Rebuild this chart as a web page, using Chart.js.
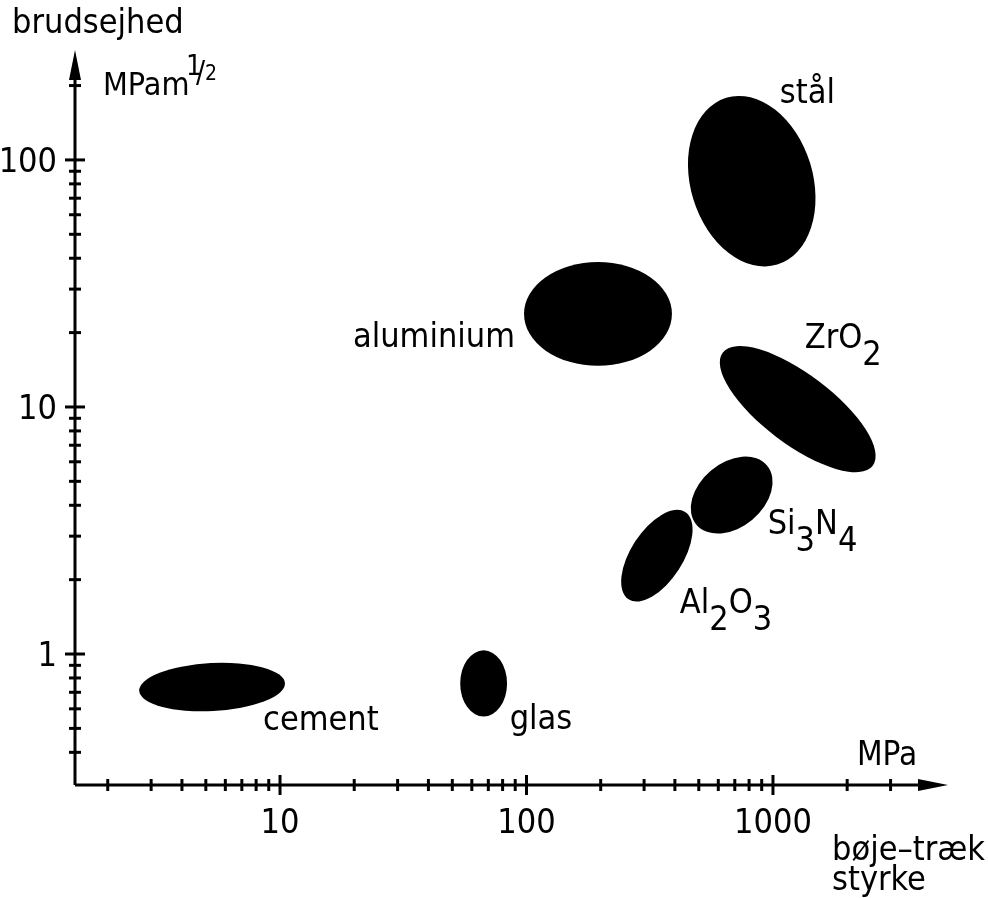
<!DOCTYPE html>
<html>
<head>
<meta charset="utf-8">
<script src="https://cdn.jsdelivr.net/npm/chart.js@4"></script>
<style>
html, body { margin: 0; padding: 0; background: #fff; }
</style>
</head>
<body>
<canvas id="chart" width="988" height="898"></canvas>
<script>
// materials: centre of each property field, and its half-spread in decades
const materials = ['stål', 'aluminium', 'ZrO2', 'Si3N4', 'Al2O3', 'glas', 'cement']
const strength = [820, 195, 1260, 680, 338, 67, 5.3]            // MPa
const toughness = [82, 23.8, 9.8, 4.4, 2.5, 0.76, 0.735]        // MPa m^1/2
const spread_major = [0.248, 0.30, 0.381, 0.187, 0.211, 0.095, 0.296]
const spread_minor = [0.353, 0.21, 0.142, 0.130, 0.105, 0.134, 0.097]
const tilt = [-17, 0, 37, -40, -57, 0, -3]                      // degrees

const x_ticks = [2, 3, 4, 5, 6, 7, 8, 9, 10, 20, 30, 40, 50, 60, 70, 80, 90,
    100, 200, 300, 400, 500, 600, 700, 800, 900, 1000, 2000, 3000]
const y_ticks = [0.4, 0.5, 0.6, 0.7, 0.8, 0.9, 1, 2, 3, 4, 5, 6, 7, 8, 9,
    10, 20, 30, 40, 50, 60, 70, 80, 90, 100, 200]
const x_labels = ['10', '100', '1000']
const y_labels = ['1', '10', '100']

// where each material name sits, relative to its field (px), baseline
const LABEL_OFFSET = [[28, -78], [-83, 33], [7, -61], [36, 39], [23, 57], [26, 46], [51, 43]]
const FAMILY = '"DejaVu Sans Condensed", "DejaVu Sans", sans-serif'
const FONT = '34px ' + FAMILY

function draw_formula(ctx, text, x, y, align) {
    // digits in formulas are set low, as subscripts
    const parts = text.split(/(\d)/).filter(s => s)
    let total = parts.reduce((w, p) => w + ctx.measureText(p).width, 0)
    let cx = align === 'right' ? x - total : x
    ctx.textAlign = 'left'
    parts.forEach(p => {
        let sub = /^\d$/.test(p) && text !== p
        ctx.fillText(p, cx, sub ? y + 17 : y)
        cx += ctx.measureText(p).width
    })
}

const sketch_plugin = {
    id: 'sketch',
    afterDatasetsDraw(chart) {
        const ctx = chart.ctx
        const xs = chart.scales.x
        const ys = chart.scales.y
        const area = chart.chartArea
        ctx.save()
        ctx.fillStyle = '#000'
        ctx.strokeStyle = '#000'

        // property fields
        materials.forEach((name, i) => {
            let cx = xs.getPixelForValue(strength[i])
            let cy = ys.getPixelForValue(toughness[i])
            let rx = xs.getPixelForValue(strength[i] * Math.pow(10, spread_major[i])) - cx
            let ry = cy - ys.getPixelForValue(toughness[i] * Math.pow(10, spread_minor[i]))
            ctx.beginPath()
            ctx.ellipse(cx, cy, rx, ry, tilt[i] * Math.PI / 180, 0, 2 * Math.PI)
            ctx.fill()
            ctx.font = FONT
            ctx.textBaseline = 'alphabetic'
            draw_formula(ctx, name, cx + LABEL_OFFSET[i][0], cy + LABEL_OFFSET[i][1],
                name === 'aluminium' ? 'right' : 'left')
        })

        // axes
        let x0 = area.left
        let y0 = area.bottom
        ctx.lineWidth = 3
        ctx.beginPath()
        ctx.moveTo(x0, y0)
        ctx.lineTo(area.right - 20, y0)
        ctx.moveTo(x0, y0)
        ctx.lineTo(x0, area.top + 20)
        ctx.stroke()

        // arrow heads
        ctx.beginPath()
        ctx.moveTo(area.right, y0)
        ctx.lineTo(area.right - 30, y0 - 6)
        ctx.lineTo(area.right - 30, y0 + 6)
        ctx.closePath()
        ctx.fill()
        ctx.beginPath()
        ctx.moveTo(x0, area.top)
        ctx.lineTo(x0 - 6, area.top + 30)
        ctx.lineTo(x0 + 6, area.top + 30)
        ctx.closePath()
        ctx.fill()

        ctx.lineWidth = 3
        x_ticks.forEach(v => {
            let px = xs.getPixelForValue(v)
            let major = x_labels.includes(String(v))
            let h = major ? 10 : 6
            ctx.beginPath()
            ctx.moveTo(px, y0 - h)
            ctx.lineTo(px, y0 + h)
            ctx.stroke()
        })
        y_ticks.forEach(v => {
            let py = ys.getPixelForValue(v)
            let major = y_labels.includes(String(v))
            ctx.beginPath()
            ctx.moveTo(x0 - (major ? 10 : 6), py)
            ctx.lineTo(x0 + (major ? 10 : 6), py)
            ctx.stroke()
        })

        // tick labels
        ctx.font = FONT
        ctx.textAlign = 'center'
        x_labels.forEach(t => {
            ctx.fillText(t, xs.getPixelForValue(Number(t)), y0 + 48)
        })
        ctx.textAlign = 'right'
        y_labels.forEach(t => {
            ctx.fillText(t, x0 - 18, ys.getPixelForValue(Number(t)) + 12)
        })

        // axis titles and units
        ctx.textAlign = 'left'
        ctx.fillText('brudsejhed', 12, 33)
        ctx.fillText('bøje–træk', 832, 860)
        ctx.fillText('styrke', 832, 890)
        ctx.font = '33px ' + FAMILY
        ctx.fillText('MPa', 857, 765)
        ctx.font = '32px ' + FAMILY
        ctx.fillText('MPam', 103, 95)
        ctx.font = '28px ' + FAMILY
        ctx.fillText('1', 186, 75)
        ctx.font = '30px ' + FAMILY
        ctx.fillText('/', 196, 82)
        ctx.font = '21px ' + FAMILY
        ctx.fillText('2', 205, 80)
        ctx.restore()
    }
}

new Chart(
    document.getElementById('chart').getContext('2d'),
    {
        'type': 'scatter',
        'data': {
            'datasets': [{
                'data': strength.map((s, i) => ({'x': s, 'y': toughness[i]})),
                'pointRadius': 0
            }]
        },
        'options': {
            'responsive': false,
            'animation': false,
            'layout': {
                'padding': {'left': 75, 'right': 40, 'top': 50, 'bottom': 113}
            },
            'plugins': {
                'legend': {'display': false},
                'tooltip': {'enabled': false}
            },
            'scales': {
                'x': {'type': 'logarithmic', 'min': 1.473, 'max': 5130, 'display': false},
                'y': {'type': 'logarithmic', 'min': 0.295, 'max': 278.6, 'display': false}
            }
        },
        'plugins': [sketch_plugin]
    });
</script>
</body>
</html>
